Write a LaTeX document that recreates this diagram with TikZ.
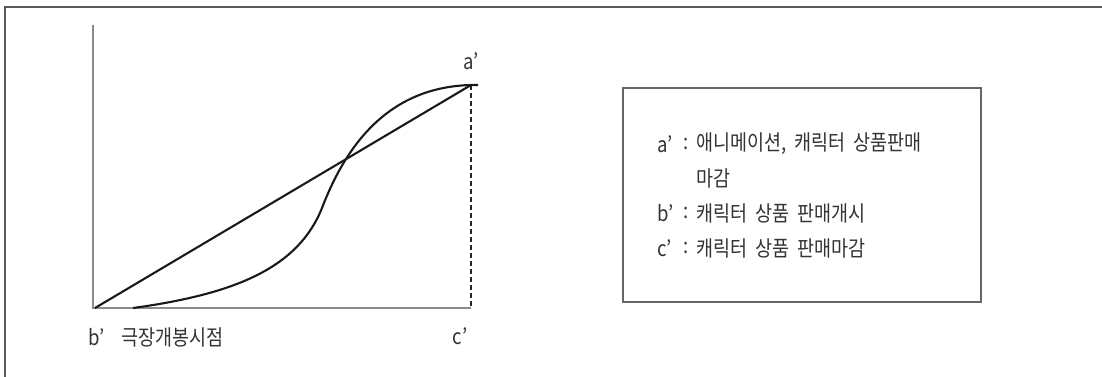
\documentclass[tikz,border=0pt]{standalone}
\usepackage{fontspec}
\setmainfont{Noto Sans CJK KR}
\newfontfamily\krfont[FakeStretch=0.86,WordSpace=1.9]{Noto Sans CJK KR}
\begin{document}
\begin{tikzpicture}[x=1pt,y=-1pt,
  lbl/.style={inner sep=0pt,font=\krfont\fontsize{21.5}{21.5}\selectfont,text=black!80},
  axis/.style={draw=black!45,line width=1.6pt},
  curve/.style={draw=black!90,line width=2.1pt},
  frame/.style={draw=black!65,line width=1.5pt}]
\useasboundingbox (0,0) rectangle (1102,376);
% outer frame
\draw[frame] (5,380) -- (5,7) -- (1106,7);
% coordinates
\coordinate (O) at (93,308);
\coordinate (Ytop) at (93,25);
\coordinate (b) at (95,308);
\coordinate (a) at (471,85);
\coordinate (c) at (471,308);
\coordinate (s) at (133,308);
\coordinate (aend) at (478,85);
% axes
\draw[axis] (Ytop) -- (O) -- (c);
% dashed drop
\draw[draw=black!85,dash pattern=on 5pt off 3pt,line width=2.6pt] (a) -- (c);
% straight line
\draw[curve] (b) -- (a);
% S curve
\draw[curve] (s) .. controls (235,294) and (298,268) .. (322,208)
  .. controls (348,140) and (392,87) .. (a) -- (aend);
% labels
\node[lbl,anchor=center] (la) at (471,61) {a’};
\node[lbl,anchor=west] (lb) at (88,337) {b’};
\node[lbl,anchor=west] (lbt) at (121,337) {극장개봉시점};
\node[lbl,anchor=center] (lc) at (460,336) {c’};
% legend box
\node[draw=black!60,line width=1.6pt,minimum width=358pt,minimum height=214pt,inner sep=0pt] (box) at (802,195) {};
\node[lbl,anchor=west] (ka) at (657,144) {a’};
\node[lbl,anchor=west] (ca) at (683,144) {:};
\node[lbl,anchor=west] (ta) at (696,144) {애니메이션, 캐릭터 상품판매};
\node[lbl,anchor=west] (ta2) at (696,178) {마감};
\node[lbl,anchor=west] (kb) at (657,213) {b’};
\node[lbl,anchor=west] (cb) at (683,213) {:};
\node[lbl,anchor=west] (tb) at (696,213) {캐릭터 상품 판매개시};
\node[lbl,anchor=west] (kc) at (657,248) {c’};
\node[lbl,anchor=west] (cc) at (683,248) {:};
\node[lbl,anchor=west] (tc) at (696,248) {캐릭터 상품 판매마감};
\end{tikzpicture}
\end{document}
